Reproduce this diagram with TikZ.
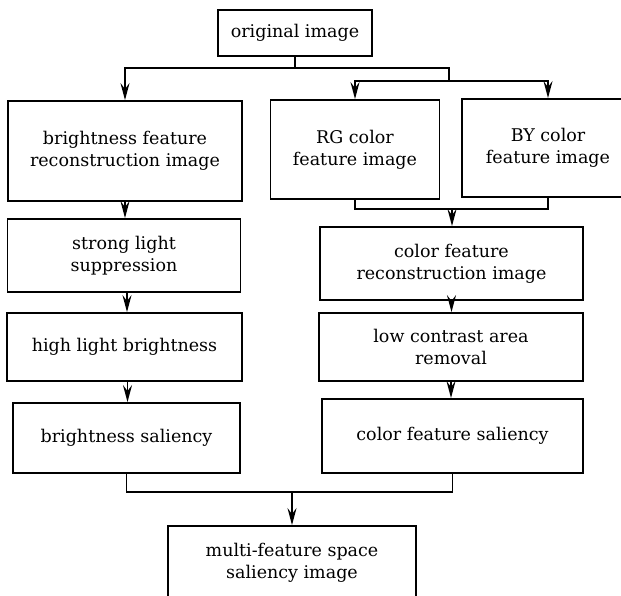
\documentclass[tikz,border=0pt]{standalone}
\usepackage{fontspec}
\setmainfont{DejaVu Serif}
\usetikzlibrary{arrows.meta,calc}
\begin{document}
\begin{tikzpicture}[x=1pt,y=-1pt,
  box/.style={draw,line width=1.8pt,align=center,inner sep=0pt,
    font=\fontsize{17.5}{22}\selectfont},
  conn/.style={line width=1.8pt},
  arr/.style={line width=1.8pt,-{Stealth[length=17pt,width=9pt,inset=6pt]}}]
\clip (0,0) rectangle (621,596);
\fill[white] (0,0) rectangle (621,596);
\node[box,minimum width=154pt,minimum height=46pt] (orig) at (295,33) {original image};
\node[box,minimum width=234pt,minimum height=100pt] (bright) at (125,151) {brightness feature\\reconstruction image};
\node[box,minimum width=169pt,minimum height=99pt] (rg) at (355,149.5) {RG color\\feature image};
\node[box,minimum width=172pt,minimum height=98pt] (by) at (548,148) {BY color\\feature image};
\node[box,minimum width=233pt,minimum height=73pt] (strong) at (124,255.5) {strong light\\suppression};
\node[box,minimum width=263pt,minimum height=73pt] (cfr) at (451.5,263.5) {color feature\\reconstruction image};
\node[box,minimum width=235pt,minimum height=68pt] (high) at (124.5,347) {high light brightness};
\node[box,minimum width=264pt,minimum height=68pt] (low) at (451,347) {low contrast area\\removal};
\node[box,minimum width=227pt,minimum height=70pt] (bsal) at (126.5,438) {brightness saliency};
\node[box,minimum width=261pt,minimum height=74pt] (csal) at (452.5,436) {color feature saliency};
\node[box,minimum width=248pt,minimum height=74pt] (multi) at (292,563) {multi-feature space\\saliency image};
% top split
\coordinate (t1) at (295,68);
\coordinate (t2) at (449,68);
\coordinate (t3) at (449,81);
\draw[conn] (orig.south) -- (t1);
\draw[arr] (t1) -| (bright.north);
\draw[conn] (t1) -- (t2) -- (t3);
\draw[arr] (t3) -| (rg.north);
\draw[arr] (t3) -| (by.north);
% left chain
\draw[arr] (bright.south) -- (bright.south |- strong.north);
\draw[arr] ($(strong.south)+(3,0)$) -- ($(strong.south |- high.north)+(3,0)$);
\draw[arr] ($(high.south)+(3,0)$) -- ($(high.south |- bsal.north)+(3,0)$);
% color merge
\coordinate (m1) at (452,209);
\draw[conn] (rg.south) |- (m1) -| (by.south);
\draw[arr] (m1) -- (m1 |- cfr.north);
\draw[arr] (cfr.south) -- (cfr.south |- low.north);
\draw[arr] (low.south) -- (low.south |- csal.north);
% final merge
\coordinate (m2) at (292,492);
\draw[conn] (bsal.south) |- (m2) -| (csal.south);
\draw[arr] (m2) -- (multi.north);
\end{tikzpicture}
\end{document}
